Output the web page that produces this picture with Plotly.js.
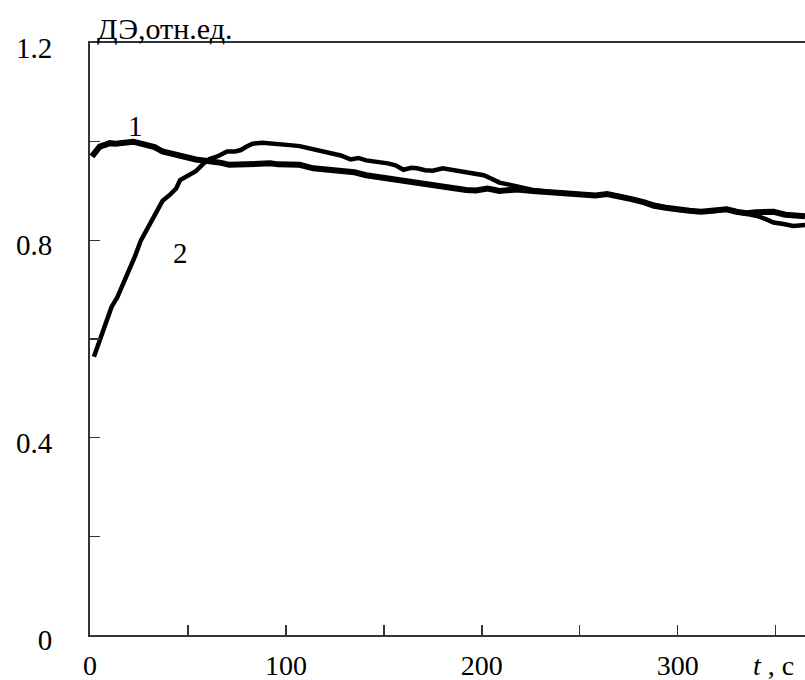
<!DOCTYPE html>
<html>
<head>
<meta charset="utf-8">
<script src="https://cdn.plot.ly/plotly-3.0.1.min.js"></script>
<style>html,body{margin:0;padding:0;background:#fff;}#chart{width:805px;height:680px;}</style>
</head>
<body>
<div id="chart"></div>
<script>
// Curve 1
const t1 = [1,3,5,8,10,13,17,20,22,25,29,33,37,41,46,50,54,58,63,67,71,76,80,86,92,96,100,107,114,118,121,128,135,141,148,155,161,167,173,179,186,192,197,203,209,214,218,226,235,243,252,258,264,270,277,283,288,294,300,306,312,318,325,330,335,340,345,349,355,360,365];
const y1 = [0.970,0.982,0.990,0.994,0.997,0.996,0.998,1.000,1.000,0.997,0.993,0.989,0.980,0.976,0.970,0.967,0.964,0.962,0.960,0.957,0.953,0.954,0.956,0.956,0.956,0.954,0.953,0.953,0.946,0.945,0.943,0.940,0.938,0.932,0.928,0.922,0.920,0.916,0.912,0.908,0.906,0.902,0.901,0.905,0.900,0.902,0.903,0.900,0.898,0.895,0.892,0.891,0.894,0.890,0.883,0.877,0.870,0.866,0.862,0.860,0.858,0.859,0.863,0.858,0.855,0.857,0.856,0.858,0.852,0.850,0.849];
// Curve 2
const t2 = [2,5,8,11,14,17,20,23,26,29,31,34,37,41,44,46,49,51,54,58,61,65,68,70,74,77,80,83,88,92,97,102,107,112,118,124,128,133,137,141,146,152,156,160,164,167,171,175,180,186,192,197,201,205,209,214,218,226,235,243,252,258,264,270,277,283,288,294,300,306,312,318,325,330,335,340,345,349,354,359,365];
const y2 = [0.564,0.600,0.635,0.665,0.685,0.712,0.740,0.768,0.800,0.822,0.835,0.855,0.880,0.893,0.905,0.922,0.928,0.932,0.940,0.956,0.965,0.970,0.976,0.980,0.980,0.983,0.990,0.996,0.998,0.997,0.996,0.993,0.991,0.986,0.980,0.976,0.972,0.964,0.967,0.962,0.960,0.956,0.952,0.943,0.947,0.946,0.942,0.941,0.946,0.942,0.939,0.936,0.932,0.925,0.917,0.913,0.910,0.902,0.898,0.895,0.892,0.891,0.894,0.890,0.883,0.877,0.870,0.866,0.862,0.860,0.858,0.859,0.863,0.858,0.855,0.850,0.843,0.836,0.833,0.829,0.831];

const xTickVals = [0,50,100,150,200,250,300,350];
const xTickText = ['0','','100','','200','','300',''];
const yTickVals = [0,0.2,0.4,0.6,0.8,1.0,1.2];
const yTickText = ['0','','0.4','','0.8','','1.2'];
const yTitle = 'ДЭ,отн.ед.';
const xTitle = '<i>t</i> , с';
const curveLabels = [{text:'1', x:23, y:1.032}, {text:'2', x:46, y:0.775}];

const FONT = '"Liberation Serif", "Times New Roman", serif';

const traces = [
  {x:t1, y:y1, type:'scatter', mode:'lines', line:{color:'#000', width:6}, hoverinfo:'skip'},
  {x:t2, y:y2, type:'scatter', mode:'lines', line:{color:'#000', width:4.5}, hoverinfo:'skip'}
];

const annotations = curveLabels.map(c => ({
  text:c.text, x:c.x, y:c.y, xref:'x', yref:'y', showarrow:false,
  font:{family:FONT, size:29, color:'#000'}
}));
annotations.push({text:yTitle, xref:'paper', yref:'paper', x:0.007, y:1.025, xanchor:'left', yanchor:'middle', showarrow:false, font:{family:FONT, size:30, color:'#000'}});
annotations.push({text:xTitle, xref:'paper', yref:'paper', x:0.925, y:-0.052, xanchor:'left', yanchor:'middle', showarrow:false, font:{family:FONT, size:28, color:'#000'}});

const layout = {
  width:805, height:680,
  margin:{l:90, r:0, t:43, b:45},
  paper_bgcolor:'#fff', plot_bgcolor:'#fff',
  showlegend:false,
  font:{family:FONT, size:29, color:'#000'},
  xaxis:{range:[0,365], tickvals:xTickVals, ticktext:xTickText, ticks:'inside', ticklen:10, tickwidth:1.5, tickcolor:'#333',
         showline:true, linecolor:'#333', linewidth:2, mirror:true, showgrid:false, zeroline:false, ticklabelstandoff:4,
         tickfont:{family:FONT, size:28, color:'#000'}},
  yaxis:{range:[0,1.2], tickvals:yTickVals, ticktext:yTickText, ticks:'inside', ticklen:10, tickwidth:1.5, tickcolor:'#333',
         showline:true, linecolor:'#333', linewidth:2, showgrid:false, zeroline:false, ticklabelstandoff:30, ticklabelshift:5,
         tickfont:{family:FONT, size:29, color:'#000'}},
  annotations:annotations
};

Plotly.newPlot('chart', traces, layout, {staticPlot:true, displayModeBar:false});
</script>
</body>
</html>
